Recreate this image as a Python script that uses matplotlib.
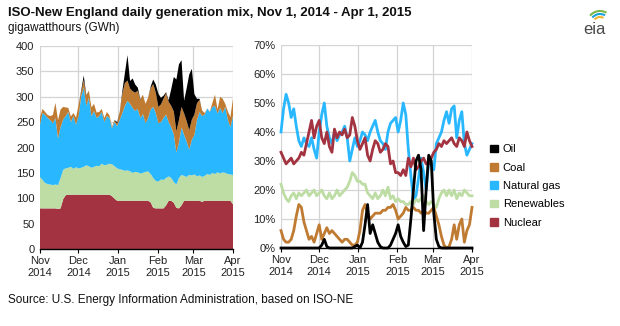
import numpy as np
import pandas as pd
import matplotlib
matplotlib.use('Agg')
import matplotlib.pyplot as plt
import matplotlib.dates as mdates
from matplotlib.patches import Patch, Arc

plt.rcParams['font.family'] = ['Liberation Sans', 'DejaVu Sans']

# ~every 2 days, Nov 1 2014 - Apr 1 2015
dates = pd.date_range('2014-11-01', '2015-04-01', periods=76)

# left panel, GWh
nuclear_gwh = [80, 80, 80, 80, 80, 80, 80, 79, 80, 98,
               106, 107, 107, 107, 107, 107, 107, 107, 107, 107,
               107, 107, 107, 107, 107, 107, 107, 107, 104, 99,
               95, 95, 95, 95, 95, 95, 95, 95, 95, 95,
               95, 95, 95, 92, 81, 80, 80, 80, 80, 86,
               95, 95, 91, 81, 80, 86, 95, 95, 95, 95,
               95, 95, 95, 93, 95, 95, 95, 95, 95, 95,
               95, 95, 95, 95, 95, 88]
renew_gwh = [62, 56, 50, 48, 47, 46, 47, 47, 60, 58,
             53, 53, 55, 51, 54, 52, 53, 55, 58, 56,
             53, 55, 57, 56, 61, 58, 59, 61, 63, 64,
             64, 62, 61, 59, 60, 58, 55, 57, 56, 54,
             55, 57, 58, 56, 59, 54, 53, 57, 56, 54,
             48, 45, 41, 46, 60, 60, 49, 47, 51, 50,
             52, 48, 50, 49, 49, 53, 51, 55, 53, 56,
             54, 56, 55, 53, 52, 58]
gas_gwh = [103, 132, 134, 130, 127, 122, 131, 92, 100, 99,
           103, 110, 88, 104, 84, 103, 140, 156, 117, 135,
           102, 110, 94, 99, 102, 85, 96, 90, 71, 87,
           83, 98, 112, 128, 137, 133, 128, 120, 125, 109,
           116, 96, 105, 127, 140, 134, 115, 113, 122, 125,
           107, 100, 94, 63, 70, 94, 81, 70, 50, 70,
           78, 111, 125, 120, 121, 129, 124, 130, 134, 116,
           129, 117, 130, 107, 93, 116]
coal_gwh = [15, 8, 6, 6, 8, 16, 30, 36, 35, 25,
            17, 8, 11, 6, 14, 22, 9, 15, 20, 14,
            17, 14, 11, 8, 6, 8, 8, 5, 3, 3,
            5, 16, 38, 45, 40, 30, 33, 36, 36, 36,
            38, 38, 40, 42, 45, 40, 32, 35, 38, 42,
            40, 42, 45, 42, 44, 40, 42, 40, 38, 40,
            40, 33, 24, 11, 3, 0, 1, 8, 22, 8,
            22, 28, 6, 16, 20, 35]
oil_gwh = [0, 0, 0, 0, 0, 0, 0, 0, 0, 0,
           0, 0, 0, 0, 0, 0, 3, 9, 1, 0,
           0, 0, 0, 0, 0, 0, 0, 0, 0, 1,
           3, 0, 5, 20, 50, 15, 25, 16, 6, 1,
           0, 0, 0, 3, 9, 16, 26, 13, 6, 2,
           3, 33, 68, 102, 110, 92, 25, 65, 110, 100,
           40, 9, 2, 0, 0, 0, 0, 0, 0, 0,
           0, 0, 0, 0, 0, 0]

# right panel, share of generation (%)
oil_pct = [0, 0, 0, 0, 0, 0, 0, 0, 0, 0,
           0, 0, 0, 0, 0, 0, 1, 3, 0.5, 0,
           0, 0, 0, 0, 0, 0, 0, 0, 0, 0.5,
           1, 0, 2, 8, 15, 5, 8, 5, 2, 0.5,
           0, 0, 0, 1, 3, 5, 8, 4, 2, 0.5,
           1, 10, 20, 30, 32, 27, 6, 20, 32, 30,
           12, 3, 0.5, 0, 0, 0, 0, 0, 0, 0,
           0, 0, 0, 0, 0, 0]
coal_pct = [6, 3, 2, 2, 3, 6, 11, 15, 14, 9,
            6, 3, 4, 2, 5, 8, 3, 5, 7, 5,
            6, 5, 4, 3, 2, 3, 3, 2, 1, 1,
            2, 6, 13, 15, 12, 10, 11, 12, 12, 12,
            13, 13, 14, 14, 15, 13, 10, 11, 12, 14,
            13, 13, 14, 13, 13, 12, 13, 12, 12, 13,
            14, 11, 8, 4, 1, 0, 0.5, 3, 8, 3,
            8, 10, 2, 6, 8, 14]
gas_pct = [40, 48, 53, 50, 45, 48, 42, 37, 35, 38,
           36, 35, 38, 34, 31, 40, 46, 50, 42, 38,
           36, 40, 37, 39, 40, 42, 38, 30, 34, 38,
           35, 37, 40, 39, 37, 40, 42, 44, 40, 37,
           36, 34, 40, 43, 44, 45, 40, 44, 50, 46,
           34, 25, 17, 18, 24, 31, 26, 20, 30, 29,
           27, 36, 38, 40, 44, 47, 43, 48, 49, 38,
           44, 47, 36, 32, 34, 36]
renew_pct = [22, 19, 17, 16, 18, 19, 17, 19, 18, 19,
             20, 18, 19, 20, 18, 19, 20, 18, 17, 19,
             17, 18, 20, 18, 19, 20, 21, 23, 26, 25,
             23, 23, 22, 22, 19, 18, 17, 19, 17, 18,
             20, 18, 21, 17, 18, 16, 17, 16, 16, 15,
             15, 16, 15, 17, 16, 17, 18, 16, 15, 16,
             15, 14, 17, 19, 20, 18, 20, 18, 20, 17,
             19, 18, 20, 19, 18, 18]
nuclear_pct = [33, 31, 29, 30, 31, 29, 30, 31, 33, 32,
               36, 40, 44, 38, 42, 44, 38, 36, 40, 35,
               33, 41, 38, 40, 39, 41, 38, 39, 45, 42,
               37, 34, 36, 38, 32, 30, 34, 37, 36, 33,
               34, 36, 35, 29, 30, 26, 26, 25, 27, 25,
               31, 28, 31, 27, 28, 30, 31, 29, 29, 31,
               33, 34, 36, 35, 37, 36, 37, 38, 36, 35,
               38, 37, 35, 40, 37, 35]

labels = ['Oil', 'Coal', 'Natural gas', 'Renewables', 'Nuclear']
c_oil, c_coal, c_gas, c_ren, c_nuc = '#000000', '#C07B32', '#29B8FF', '#BDDDA4', '#A33340'

month_ticks = pd.to_datetime(['2014-11-01', '2014-12-01', '2015-01-01',
                              '2015-02-01', '2015-03-01', '2015-04-01'])
month_labels = ['Nov\n2014', 'Dec\n2014', 'Jan\n2015', 'Feb\n2015', 'Mar\n2015', 'Apr\n2015']

fig = plt.figure(figsize=(6.2, 3.26), dpi=100)
ax1 = fig.add_axes([40/620, 1-249/326, 193/620, 203/326])
ax2 = fig.add_axes([281/620, 1-248/326, 191/620, 203/326])

ax1.stackplot(dates, nuclear_gwh, renew_gwh, gas_gwh, coal_gwh, oil_gwh,
              colors=[c_nuc, c_ren, c_gas, c_coal, c_oil], linewidth=0)
ax1.set_ylim(0, 400)
ax1.set_yticks(range(0, 401, 50))

ax2.plot(dates, renew_pct, color=c_ren, lw=2.0, clip_on=False)
ax2.plot(dates, coal_pct, color=c_coal, lw=2.0, clip_on=False)
ax2.plot(dates, gas_pct, color=c_gas, lw=2.0, clip_on=False)
ax2.plot(dates, nuclear_pct, color=c_nuc, lw=2.0, clip_on=False)
ax2.plot(dates, oil_pct, color=c_oil, lw=2.0, clip_on=False)
ax2.set_ylim(0, 70)
ax2.set_yticks(range(0, 71, 10))
ax2.set_yticklabels([f'{v}%' for v in range(0, 71, 10)])

for ax in (ax1, ax2):
    ax.set_xlim(month_ticks[0], month_ticks[-1])
    ax.set_xticks(month_ticks)
    ax.set_xticklabels(month_labels)
    ax.set_axisbelow(True)
    ax.grid(True, color='#d4d4d4', lw=0.9)
    for s in ('top', 'right', 'left'):
        ax.spines[s].set_visible(False)
    ax.spines['bottom'].set_color('black')
    ax.spines['bottom'].set_linewidth(1.0)
    ax.tick_params(axis='y', length=0, labelsize=8, colors='#222222', pad=4)
    ax.tick_params(axis='x', length=3, direction='out', color='black',
                   labelsize=8, labelcolor='#222222', pad=2)

handles = [Patch(color=c) for c in (c_oil, c_coal, c_gas, c_ren, c_nuc)]
fig.legend(handles, labels, loc='upper left', bbox_to_anchor=(486/620, 1-140/326),
           frameon=False, fontsize=8, handlelength=0.7, handleheight=0.7,
           handletextpad=0.4, labelspacing=0.75, borderaxespad=0)

fig.text(8/620, 1-13/326, 'ISO-New England daily generation mix, Nov 1, 2014 - Apr 1, 2015',
         fontsize=9.5, fontweight='bold', va='center', color='#111111')
fig.text(8/620, 1-28/326, 'gigawatthours (GWh)', fontsize=8.5, va='center', color='#111111')
fig.text(8/620, 1-300/326, 'Source: U.S. Energy Information Administration, based on ISO-NE',
         fontsize=8.5, va='center', color='#111111')

# eia logo
lax = fig.add_axes([576/620, 1-38/326, 36/620, 34/326])
lax.set_xlim(0, 36)
lax.set_ylim(0, 34)
lax.set_aspect('equal')
lax.axis('off')
lax.text(18, 8, 'eia', fontsize=12, ha='center', va='center', color='#4a4a4a')
for r, col in ((13, '#7ab648'), (10, '#1aa3d9'), (7, '#f2b632')):
    lax.add_patch(Arc((24, 14), 2*r, 2*r, theta1=60, theta2=140, color=col, lw=1.5))

fig.savefig('out.png', dpi=100)
